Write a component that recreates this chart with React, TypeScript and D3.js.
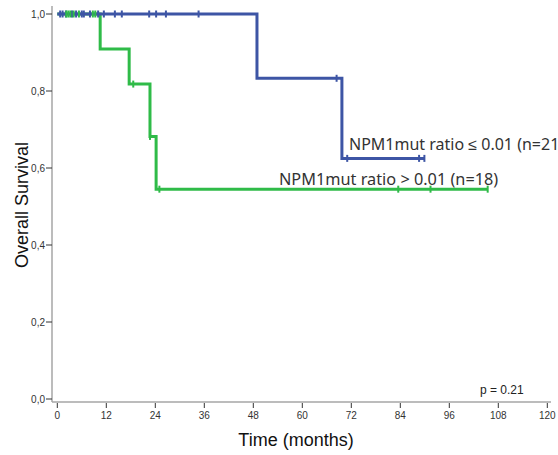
import React, { useEffect, useRef } from 'react';
import * as d3 from 'd3';

// Kaplan-Meier steps (time in months, survival)
const lowTimes = [0, 48.9, 69.7, 90];
const lowSurv = [1, 0.833, 0.625, 0.625];
const lowCensored = [0.7, 1.3, 2.1, 3.6, 4.6, 6.0, 6.5, 8.0, 10.0, 11.4, 14.1, 15.8, 22.5, 24.2, 26.6, 34.6, 68.4, 71.0, 88.6, 89.9];

const highTimes = [0, 10.5, 17.6, 22.7, 24.2, 105.4];
const highSurv = [1, 0.909, 0.818, 0.682, 0.545, 0.545];
const highCensored = [2.2, 2.7, 3.2, 4.0, 5.3, 8.7, 9.3, 18.6, 22.7, 25.0, 83.5, 91.4, 105.4];

const xTicks = [0, 12, 24, 36, 48, 60, 72, 84, 96, 108, 120];
const yTicks = [0, 0.2, 0.4, 0.6, 0.8, 1.0];

const lowLabel = 'NPM1mut ratio \u2264 0.01 (n=21)';
const highLabel = 'NPM1mut ratio > 0.01 (n=18)';
const pLabel = 'p = 0.21';

const BLUE = '#3d55a5';
const GREEN = '#2fbb48';
const AXIS = '#a6a6a6';

const App = () => {
  const svgRef = useRef<SVGSVGElement>(null);

  useEffect(() => {
    const svg = d3.select(svgRef.current);
    svg.selectAll('*').remove();

    const x = d3.scaleLinear().domain([0, 120]).range([57.3, 547.3]);
    const y = d3.scaleLinear().domain([0, 1]).range([399, 14]);

    // axes lines
    svg.append('line').attr('x1', 52).attr('x2', 52).attr('y1', 6).attr('y2', 402)
      .attr('stroke', AXIS).attr('stroke-width', 1.5);
    svg.append('line').attr('x1', 52).attr('x2', 551).attr('y1', 402).attr('y2', 402)
      .attr('stroke', AXIS).attr('stroke-width', 1.5);

    // y ticks
    const yg = svg.append('g');
    yTicks.forEach(t => {
      yg.append('line').attr('x1', 46).attr('x2', 52).attr('y1', y(t)).attr('y2', y(t))
        .attr('stroke', '#333').attr('stroke-width', 1);
      yg.append('text').attr('x', 45).attr('y', y(t)).attr('dy', '0.35em')
        .attr('text-anchor', 'end').attr('font-family', 'Liberation Sans, Arial, sans-serif')
        .attr('font-size', 10).attr('fill', '#333')
        .text(d3.format('.1f')(t).replace('.', ','));
    });

    // x ticks
    const xg = svg.append('g');
    xTicks.forEach(t => {
      xg.append('line').attr('x1', x(t)).attr('x2', x(t)).attr('y1', 403).attr('y2', 408)
        .attr('stroke', '#333').attr('stroke-width', 1);
      xg.append('text').attr('x', x(t)).attr('y', 419)
        .attr('text-anchor', 'middle').attr('font-family', 'Liberation Sans, Arial, sans-serif')
        .attr('font-size', 10).attr('fill', '#333').text(t);
    });

    // axis titles
    svg.append('text').attr('x', 296).attr('y', 446).attr('text-anchor', 'middle')
      .attr('font-family', 'Liberation Sans, Arial, sans-serif').attr('font-size', 18)
      .attr('fill', '#111').text('Time (months)');
    svg.append('text').attr('transform', 'translate(28,205) rotate(-90)').attr('text-anchor', 'middle')
      .attr('font-family', 'Liberation Sans, Arial, sans-serif').attr('font-size', 18)
      .attr('fill', '#111').text('Overall Survival');

    const drawCurve = (times: number[], surv: number[], color: string) => {
      const l = d3.line<number>().x(d => x(d)).y((d, i) => y(surv[i])).curve(d3.curveStepAfter);
      svg.append('path').attr('d', l(times)).attr('fill', 'none')
        .attr('stroke', color).attr('stroke-width', 3);
    };

    const survAt = (times: number[], surv: number[], t: number) => {
      const i = d3.bisectRight(times, t) - 1;
      return surv[Math.max(0, i)];
    };

    const drawCensors = (cens: number[], times: number[], surv: number[], color: string) => {
      svg.append('g').selectAll('line').data(cens).join('line')
        .attr('x1', d => x(d)).attr('x2', d => x(d))
        .attr('y1', d => y(survAt(times, surv, d)) - 3.5)
        .attr('y2', d => y(survAt(times, surv, d)) + 3.5)
        .attr('stroke', color).attr('stroke-width', 2);
    };

    drawCurve(highTimes, highSurv, GREEN);
    drawCurve(lowTimes, lowSurv, BLUE);
    drawCensors(lowCensored, lowTimes, lowSurv, BLUE);
    drawCensors(highCensored, highTimes, highSurv, GREEN);

    // labels
    svg.append('text').attr('x', 349).attr('y', 150)
      .attr('font-family', 'Noto Sans, sans-serif').attr('font-size', 16).attr('fill', '#333')
      .text(lowLabel);
    svg.append('text').attr('x', 279).attr('y', 185)
      .attr('font-family', 'Noto Sans, sans-serif').attr('font-size', 16.3).attr('fill', '#333')
      .text(highLabel);
    svg.append('text').attr('x', 480).attr('y', 394)
      .attr('font-family', 'Liberation Sans, Arial, sans-serif').attr('font-size', 12).attr('fill', '#222')
      .text(pLabel);
  }, []);

  return (
    <svg
      ref={svgRef}
      width={558}
      height={455}
      style={{ position: 'absolute', left: 0, top: 0, display: 'block', background: '#fff' }}
    />
  );
};

export default App;
